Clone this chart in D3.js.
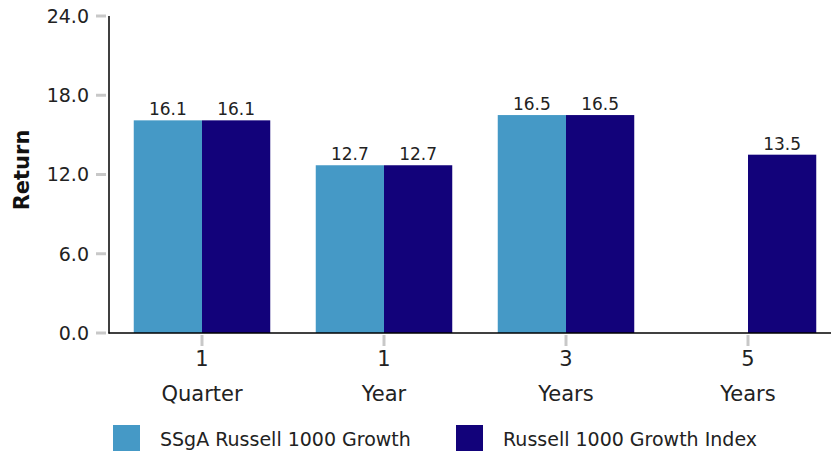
<!DOCTYPE html>
<html><head><meta charset="utf-8">
<script src="https://cdn.jsdelivr.net/npm/d3@7"></script>
<style>body{margin:0;background:#fff}svg{display:block}text{font-family:"DejaVu Sans",sans-serif}</style>
</head><body><svg id="c" width="831" height="458"></svg>
<script>
const categories = [["1","Quarter"],["1","Year"],["3","Years"],["5","Years"]];
const seriesNames = ["SSgA Russell 1000 Growth","Russell 1000 Growth Index"];
const fundValues = [16.1, 12.7, 16.5, null];
const indexValues = [16.1, 12.7, 16.5, 13.5];
const yTicks = [0, 6, 12, 18, 24];
const colors = ["#4599C6", "#12027A"];

const svg = d3.select("#c");
const x0 = d3.scaleBand().domain(d3.range(categories.length)).range([111, 839]).paddingInner(0.25).paddingOuter(0.125);
const x1 = d3.scaleBand().domain([0,1]).range([0, x0.bandwidth()]);
const y = d3.scaleLinear().domain([0, 24]).range([333, 16]);

// y ticks
const yg = svg.append("g");
yTicks.forEach(t => {
  yg.append("line").attr("x1", 96).attr("x2", 106).attr("y1", y(t)).attr("y2", y(t))
    .attr("stroke", "#c8c8c8").attr("stroke-width", 3);
  yg.append("text").attr("x", 89).attr("y", y(t)).attr("dy", "0.36em").attr("text-anchor", "end")
    .attr("font-size", 19).attr("fill", "#222").text(d3.format(".1f")(t));
});

// bars
const series = [fundValues, indexValues];
series.forEach((vals, si) => {
  vals.forEach((v, i) => {
    if (v == null) return;
    const bx = x0(i) + x1(si);
    svg.append("rect").attr("x", bx).attr("y", y(v)).attr("width", x1.bandwidth()).attr("height", y(0) - y(v))
      .attr("fill", colors[si]);
    svg.append("text").attr("x", bx + x1.bandwidth()/2).attr("y", y(v) - 5).attr("text-anchor", "middle")
      .attr("font-size", 17).attr("fill", "#222").text(d3.format(".1f")(v));
  });
});

// axes lines
svg.append("line").attr("x1", 109).attr("x2", 109).attr("y1", 16).attr("y2", 333.5).attr("stroke", "#000").attr("stroke-width", 1.5);
svg.append("line").attr("x1", 108.5).attr("x2", 831).attr("y1", 333).attr("y2", 333).attr("stroke", "#000").attr("stroke-width", 1.5);

// x ticks
categories.forEach((c, i) => {
  const cx = x0(i) + x0.bandwidth()/2;
  svg.append("line").attr("x1", cx).attr("x2", cx).attr("y1", 335).attr("y2", 346).attr("stroke", "#c8c8c8").attr("stroke-width", 3);
  const t = svg.append("text").attr("text-anchor", "middle").attr("font-size", 21).attr("fill", "#222");
  t.append("tspan").attr("x", cx).attr("y", 366).text(c[0]);
  t.append("tspan").attr("x", cx).attr("y", 401).text(c[1]);
});

// y label
svg.append("text").attr("transform", "translate(29,170) rotate(-90)").attr("text-anchor", "middle")
  .attr("font-size", 21).attr("font-weight", "bold").attr("fill", "#111").text("Return");

// legend
const legX = [113, 456];
seriesNames.forEach((n, i) => {
  svg.append("rect").attr("x", legX[i]).attr("y", 425).attr("width", 27).attr("height", 26).attr("fill", colors[i]);
  svg.append("text").attr("x", legX[i] + 47).attr("y", 446).attr("font-size", 19).attr("fill", "#222").text(n);
});
</script></body></html>
